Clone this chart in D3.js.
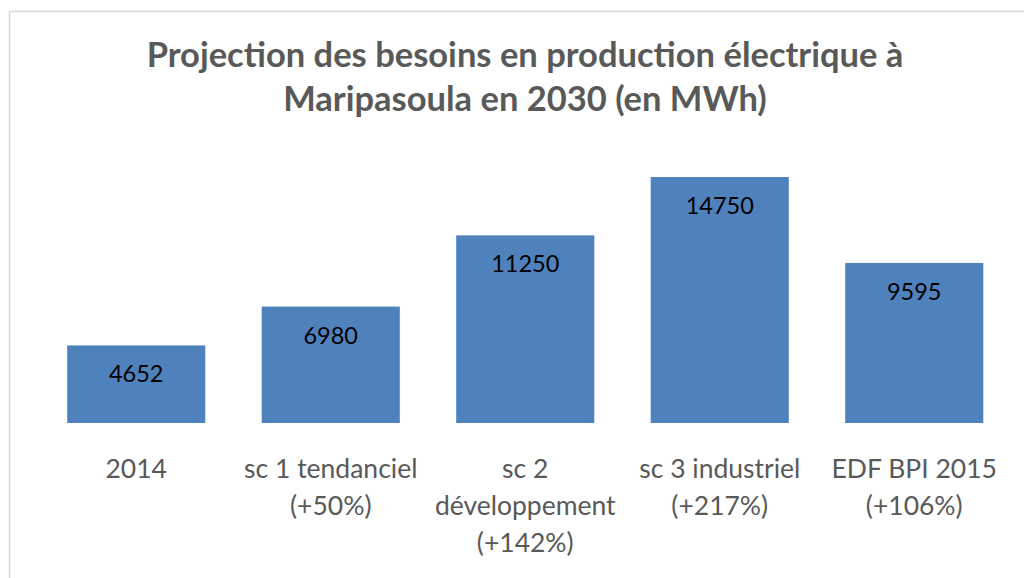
<!DOCTYPE html>
<html>
<head>
<meta charset="utf-8">
<script src="https://cdn.jsdelivr.net/npm/d3@7"></script>
<style>
  body { margin: 0; background: #fff; }
  svg { display: block; font-family: Lato, "Open Sans", sans-serif; }
</style>
</head>
<body>
<svg id="chart"></svg>
<script>
// data
var categories = ["2014", "sc 1 tendanciel (+50%)", "sc 2 développement (+142%)", "sc 3 industriel (+217%)", "EDF BPI 2015 (+106%)"];
var labelLines = [["2014"], ["sc 1 tendanciel", "(+50%)"], ["sc 2", "développement", "(+142%)"], ["sc 3 industriel", "(+217%)"], ["EDF BPI 2015", "(+106%)"]];
var values = [4652, 6980, 11250, 14750, 9595];
var titleLines = ["Projection des besoins en production électrique à", "Maripasoula en 2030 (en MWh)"];

var W = 1024, H = 578;
var svg = d3.select("#chart").attr("width", W).attr("height", H);

// chart frame
svg.append("rect")
    .attr("x", 9.5).attr("y", 11.5)
    .attr("width", 1030).attr("height", 600)
    .attr("fill", "#fff")
    .attr("stroke", "#d9d9d9")
    .attr("stroke-width", 1.5);

// title
svg.append("g").selectAll("text")
    .data(titleLines)
    .enter().append("text")
    .attr("x", 525)
    .attr("y", function(d, i) { return 67 + i * 44; })
    .attr("text-anchor", "middle")
    .attr("font-size", 34.5)
    .attr("font-weight", "bold")
    .attr("fill", "#595959")
    .text(function(d) { return d; });

var x = d3.scaleBand()
    .domain(categories)
    .range([39, 1011.5])
    .paddingInner(0.29)
    .paddingOuter(0.145);

var y = d3.scaleLinear()
    .domain([0, 14750])
    .range([423, 177]);

// bars
svg.append("g").selectAll("rect")
    .data(values)
    .enter().append("rect")
    .attr("x", function(d, i) { return x(categories[i]); })
    .attr("y", function(d) { return y(d); })
    .attr("width", x.bandwidth())
    .attr("height", function(d) { return y(0) - y(d); })
    .attr("fill", "#4f81bd");

// value labels inside the bars
svg.append("g").selectAll("text")
    .data(values)
    .enter().append("text")
    .attr("x", function(d, i) { return x(categories[i]) + x.bandwidth() / 2; })
    .attr("y", function(d) { return y(d) + 37; })
    .attr("text-anchor", "middle")
    .attr("font-size", 23.5)
    .attr("fill", "#000")
    .text(function(d) { return d; });

// category labels (wrapped as in the original)
var cat = svg.append("g").selectAll("text")
    .data(categories)
    .enter().append("text")
    .attr("x", function(d) { return x(d) + x.bandwidth() / 2; })
    .attr("y", 478)
    .attr("text-anchor", "middle")
    .attr("font-size", 26.5)
    .attr("fill", "#595959");

cat.each(function(d, i) {
    d3.select(this).selectAll("tspan")
        .data(labelLines[i])
        .enter().append("tspan")
        .attr("x", x(d) + x.bandwidth() / 2)
        .attr("dy", function(t, j) { return j === 0 ? 0 : 37; })
        .text(function(t) { return t; });
});
</script>
</body>
</html>
